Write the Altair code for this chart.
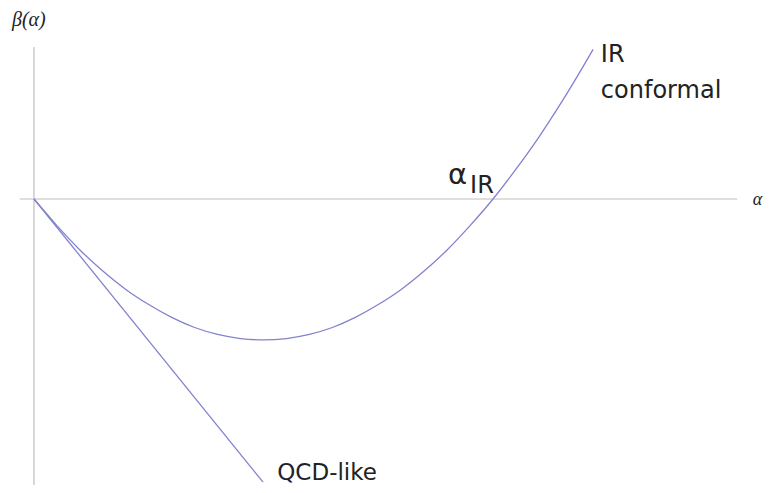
import altair as alt
import pandas as pd

# ---- data (alpha in units of alpha_IR, beta in the same units) ----
curve_alpha = [0.0, 0.05, 0.10, 0.15, 0.20, 0.25, 0.30, 0.35, 0.40, 0.45, 0.50,
               0.55, 0.60, 0.65, 0.70, 0.75, 0.80, 0.85, 0.90, 0.95, 1.00,
               1.05, 1.10, 1.15, 1.20, 1.218]
curve_beta = [0.0, -0.058, -0.111, -0.157, -0.197, -0.230, -0.258, -0.280, -0.295, -0.304, -0.307,
              -0.304, -0.295, -0.280, -0.258, -0.230, -0.197, -0.157, -0.111, -0.058, 0.0,
              0.065, 0.135, 0.212, 0.295, 0.326]

qcd_alpha = [0.0, 0.499]
qcd_beta = [0.0, -0.617]

# axis lines (extent in data units)
h_axis_alpha = [-0.031, 1.532]
v_axis_beta = [0.331, -0.623]

# annotation texts and their anchor points in data units
ir_labels = ["IR", "conformal", "IR"]
ir_alpha = [1.235, 1.235, 0.950]
ir_beta = [0.298, 0.220, 0.013]

qcd_label = ["QCD-like"]
qcd_label_a = [0.530]
qcd_label_b = [-0.612]

alpha_ir_label = ["α"]
alpha_ir_a = [0.902]
alpha_ir_b = [0.033]

beta_label = ["β(α)"]
beta_label_a = [-0.048]
beta_label_b = [0.377]

alpha_axis_label = ["α"]
alpha_axis_a = [1.566]
alpha_axis_b = [-0.013]

X_DOMAIN = [-0.0566, 1.5882]
Y_DOMAIN = [-0.6231, 0.4161]

LINE = "#8282cf"
AXIS = "#bdbdbd"
TEXT = "#222222"

xs = alt.Scale(domain=X_DOMAIN, nice=False, zero=False)
ys = alt.Scale(domain=Y_DOMAIN, nice=False, zero=False)

curve_df = pd.DataFrame({"a": curve_alpha, "b": curve_beta})
qcd_df = pd.DataFrame({"a": qcd_alpha, "b": qcd_beta})
h_df = pd.DataFrame({"a1": [h_axis_alpha[0]], "a2": [h_axis_alpha[1]], "b": [0.0]})
v_df = pd.DataFrame({"a": [0.0], "b1": [v_axis_beta[0]], "b2": [v_axis_beta[1]]})

h_axis = alt.Chart(h_df).mark_rule(color=AXIS, strokeWidth=1.2).encode(
    x=alt.X("a1:Q", scale=xs, axis=None), x2="a2:Q",
    y=alt.Y("b:Q", scale=ys, axis=None))
v_axis = alt.Chart(v_df).mark_rule(color=AXIS, strokeWidth=1.2).encode(
    x=alt.X("a:Q", scale=xs, axis=None),
    y=alt.Y("b1:Q", scale=ys, axis=None), y2="b2:Q")

curve = alt.Chart(curve_df).mark_line(color=LINE, strokeWidth=1.3, interpolate="monotone").encode(
    x=alt.X("a:Q", scale=xs, axis=None), y=alt.Y("b:Q", scale=ys, axis=None))
qcd = alt.Chart(qcd_df).mark_line(color=LINE, strokeWidth=1.3).encode(
    x=alt.X("a:Q", scale=xs, axis=None), y=alt.Y("b:Q", scale=ys, axis=None))


def text_layer(labels, a, b, **kw):
    df = pd.DataFrame({"t": labels, "a": a, "b": b})
    return alt.Chart(df).mark_text(align="left", baseline="alphabetic", color=TEXT, **kw).encode(
        x=alt.X("a:Q", scale=xs, axis=None), y=alt.Y("b:Q", scale=ys, axis=None), text="t:N")


ir_text = text_layer(ir_labels, ir_alpha, ir_beta, font="DejaVu Sans", fontSize=24)
qcd_text = text_layer(qcd_label, qcd_label_a, qcd_label_b, font="DejaVu Sans", fontSize=23)
alpha_ir = text_layer(alpha_ir_label, alpha_ir_a, alpha_ir_b, font="DejaVu Sans", fontSize=29)
beta_text = text_layer(beta_label, beta_label_a, beta_label_b, font="Liberation Serif",
                       fontSize=20, fontStyle="italic")
alpha_text = text_layer(alpha_axis_label, alpha_axis_a, alpha_axis_b, font="Liberation Serif",
                        fontSize=18, fontStyle="italic")

chart = alt.layer(h_axis, v_axis, curve, qcd, ir_text, qcd_text, alpha_ir, beta_text, alpha_text).properties(
    width=755, height=477, autosize=alt.AutoSizeParams(type="none"), padding=0,
    background="white"
).configure_view(stroke=None)

chart.save("out.html", embed_options={"renderer": "svg", "actions": False})
